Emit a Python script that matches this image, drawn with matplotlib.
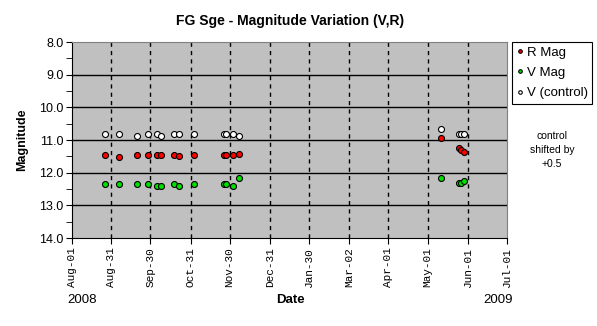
import matplotlib
matplotlib.use("Agg")
import matplotlib.pyplot as plt
import matplotlib.dates as mdates
from matplotlib.ticker import MultipleLocator
import datetime as dt

# observation dates
dates = ["2008-08-26", "2008-09-06", "2008-09-20", "2008-09-28", "2008-10-05",
         "2008-10-08", "2008-10-18", "2008-10-22", "2008-11-03", "2008-11-26",
         "2008-11-27", "2008-12-03", "2008-12-07",
         "2009-05-11", "2009-05-25", "2009-05-27", "2009-05-29"]

r_mag = [11.47, 11.51, 11.45, 11.47, 11.47, 11.47, 11.45, 11.48, 11.47, 11.47,
         11.47, 11.47, 11.44, 10.93, 11.23, 11.30, 11.37]
v_mag = [12.36, 12.36, 12.36, 12.36, 12.40, 12.40, 12.36, 12.40, 12.36, 12.36,
         12.36, 12.40, 12.15, 12.16, 12.31, 12.31, 12.27]
v_ctrl = [10.83, 10.83, 10.89, 10.83, 10.83, 10.87, 10.83, 10.83, 10.83, 10.83,
          10.83, 10.83, 10.87, 10.66, 10.81, 10.81, 10.81]

tick_dates = ["2008-08-01", "2008-08-31", "2008-09-30", "2008-10-31", "2008-11-30",
              "2008-12-31", "2009-01-30", "2009-03-02", "2009-04-01", "2009-05-01",
              "2009-06-01", "2009-07-01"]

x = [dt.datetime.strptime(d, "%Y-%m-%d") for d in dates]
xt = [dt.datetime.strptime(d, "%Y-%m-%d") for d in tick_dates]

fig = plt.figure(figsize=(5.97, 3.26), dpi=100)
ax = fig.add_axes([72/597, 1-238/326, (507-72)/597, (238-42)/326])
ax.set_facecolor("#c0c0c0")

mk = dict(marker="o", linestyle="none", markersize=4.3, markeredgecolor="black",
          markeredgewidth=0.8, zorder=5)
ax.plot(x, r_mag, markerfacecolor="#ff0000", label="R Mag", **mk)
ax.plot(x, v_mag, markerfacecolor="#00e000", label="V Mag", **mk)
ax.plot(x, v_ctrl, markerfacecolor="white", label="V (control)", **mk)

ax.set_ylim(14, 8)
ax.set_xlim(xt[0], xt[-1])
ax.yaxis.set_minor_locator(MultipleLocator(0.5))
ax.set_yticks([8, 9, 10, 11, 12, 13, 14])
ax.set_yticklabels(["%.1f" % v for v in [8, 9, 10, 11, 12, 13, 14]],
                   fontsize=9, family="Liberation Sans")
ax.set_xticks(xt)
ax.xaxis.set_major_formatter(mdates.DateFormatter("%b-%d"))
plt.setp(ax.get_xticklabels(), rotation=90, fontsize=8, family="Liberation Mono")
ax.tick_params(axis="both", which="both", direction="out", color="black")
ax.tick_params(axis="y", which="major", length=4, pad=2)
ax.tick_params(axis="y", which="minor", length=4)
ax.tick_params(axis="x", length=4, pad=3)

for v in [9, 10, 11, 12, 13]:
    ax.axhline(v, color="black", linewidth=1, zorder=1)
for d in xt[1:-1]:
    ax.axvline(d, color="black", linewidth=1, linestyle=(0, (3, 3)), zorder=1)

ax.spines["left"].set_color("black")
ax.spines["bottom"].set_color("black")
ax.spines["top"].set_color("#808080")
ax.spines["right"].set_color("#808080")

ax.set_ylabel("Magnitude", fontsize=9, fontweight="bold", family="Liberation Sans",
              labelpad=8)
fig.text(0.486, 0.935, "FG Sge - Magnitude Variation (V,R)", ha="center", va="center",
         fontsize=10, fontweight="bold", family="Liberation Sans")
fig.text(290/597, 1-300/326, "Date", ha="center", va="center", fontsize=9.5,
         fontweight="bold", family="Liberation Sans")
fig.text(82/597, 1-300/326, "2008", ha="center", va="center", fontsize=9.5,
         family="Liberation Sans")
fig.text(498/597, 1-300/326, "2009", ha="center", va="center", fontsize=9.5,
         family="Liberation Sans")
fig.text(552/597, 1-150/326, "control\nshifted by\n+0.5", ha="center", va="center",
         fontsize=7.5, family="Liberation Sans", linespacing=1.5)

leg = ax.legend(loc="upper left", bbox_to_anchor=(512/597, 1-42/326),
                bbox_transform=fig.transFigure, borderaxespad=0, fancybox=False,
                framealpha=1, edgecolor="black", handlelength=0.5, handletextpad=0.25,
                borderpad=0.35, labelspacing=0.6, markerscale=0.6,
                prop={"family": "Liberation Sans", "size": 9.5})
leg.get_frame().set_linewidth(0.8)

fig.savefig("out.png", dpi=100)
